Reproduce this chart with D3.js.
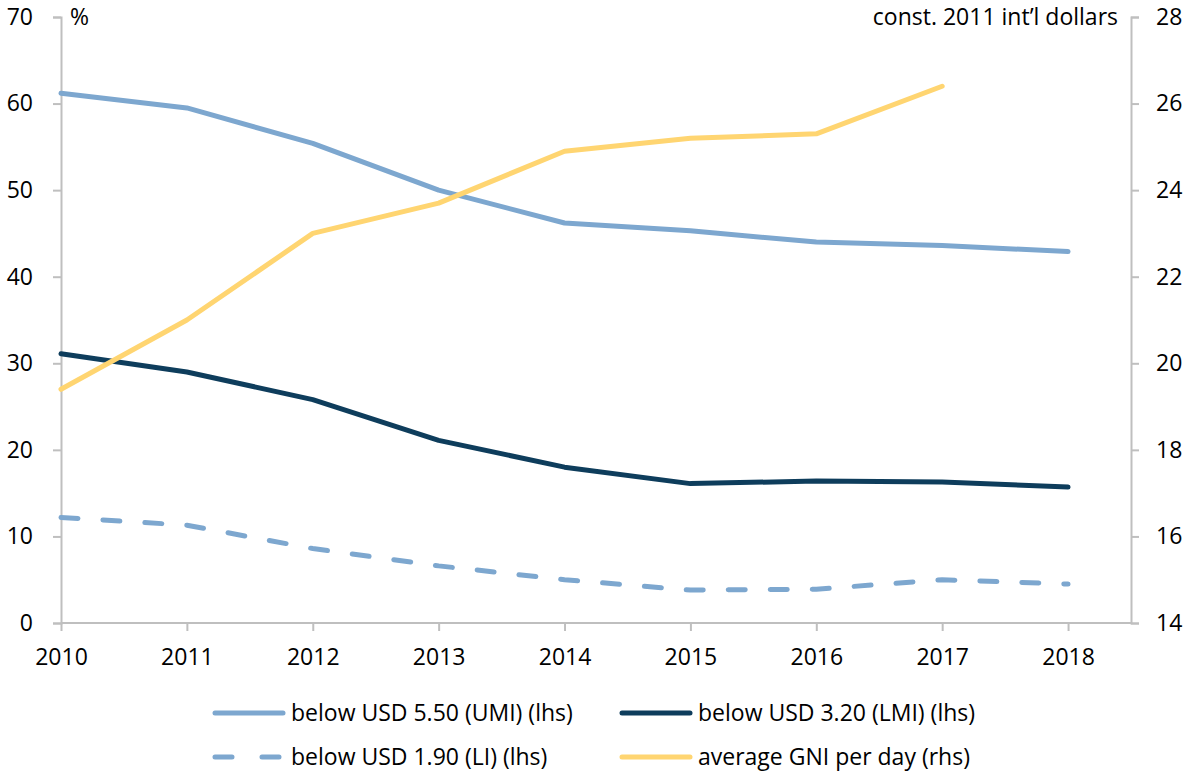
<!DOCTYPE html>
<html>
<head>
<meta charset="utf-8">
<script src="https://cdn.jsdelivr.net/npm/d3@7"></script>
<style>
  body { margin: 0; background: #fff; }
  svg text { font-family: "Open Sans", sans-serif; fill: #000; }
</style>
</head>
<body>
<svg id="chart" width="1192" height="775"></svg>
<script>
const years = [2010, 2011, 2012, 2013, 2014, 2015, 2016, 2017, 2018];
const umi = [61.2, 59.5, 55.4, 50.0, 46.2, 45.3, 44.0, 43.6, 42.9];
const lmi = [31.1, 29.0, 25.8, 21.1, 18.0, 16.1, 16.4, 16.3, 15.7];
const li = [12.2, 11.3, 8.6, 6.6, 5.0, 3.8, 3.9, 5.0, 4.5];
const gni = [19.4, 21.0, 23.0, 23.7, 24.9, 25.2, 25.3, 26.4, null];
const leftTicks = [0, 10, 20, 30, 40, 50, 60, 70];
const rightTicks = [14, 16, 18, 20, 22, 24, 26, 28];

const svg = d3.select("#chart");
const margin = { left: 61, right: 1131, top: 17, bottom: 623 };
const fontSize = 23;

const x = d3.scaleLinear().domain([2010, 2018.5]).range([margin.left, margin.right]);
const yL = d3.scaleLinear().domain([0, 70]).range([margin.bottom, margin.top]);
const yR = d3.scaleLinear().domain([14, 28]).range([margin.bottom, margin.top]);

const axisCol = "#bfbfbf";

// left axis
const gl = svg.append("g").attr("transform", `translate(${margin.left},0)`)
  .call(d3.axisLeft(yL).tickValues(leftTicks).tickSize(8).tickPadding(20));
// right axis
const gr = svg.append("g").attr("transform", `translate(${margin.right},0)`)
  .call(d3.axisRight(yR).tickValues(rightTicks).tickSize(8).tickPadding(17));
// bottom axis
const gb = svg.append("g").attr("transform", `translate(0,${margin.bottom})`)
  .call(d3.axisBottom(x).tickValues(years).tickFormat(d3.format("d")).tickSize(8).tickPadding(18));

[gl, gr, gb].forEach(g => {
  g.select(".domain").attr("stroke", axisCol).attr("stroke-width", 2);
  g.selectAll(".tick line").attr("stroke", axisCol).attr("stroke-width", 2);
  g.selectAll(".tick text").attr("font-size", fontSize).attr("font-family", "'Open Sans', sans-serif");
});
gb.select(".domain").attr("d", `M${margin.left},0H${margin.right}`);

svg.append("text").attr("x", 70).attr("y", 25).attr("font-size", fontSize).text("%");
svg.append("text").attr("x", 1118).attr("y", 25).attr("font-size", fontSize)
  .attr("text-anchor", "end").text("const. 2011 int\u2019l dollars");

const series = [
  { name: "below USD 5.50 (UMI) (lhs)", values: umi, y: yL, color: "#7da7cf", dash: null },
  { name: "below USD 3.20 (LMI) (lhs)", values: lmi, y: yL, color: "#0e3d5c", dash: null },
  { name: "below USD 1.90 (LI) (lhs)", values: li, y: yL, color: "#7da7cf", dash: "17 25" },
  { name: "average GNI per day (rhs)", values: gni, y: yR, color: "#ffd571", dash: null }
];

series.forEach(s => {
  const line = d3.line()
    .defined(d => d.v != null)
    .x(d => x(d.year))
    .y(d => s.y(d.v));
  svg.append("path")
    .datum(years.map((yr, i) => ({ year: yr, v: s.values[i] })))
    .attr("fill", "none")
    .attr("stroke", s.color)
    .attr("stroke-width", 5)
    .attr("stroke-linecap", "round")
    .attr("stroke-linejoin", "round")
    .attr("stroke-dasharray", s.dash)
    .attr("d", line);
});

// legend
const legendPos = [
  { x: 213, y: 713 }, { x: 620, y: 713 },
  { x: 213, y: 757 }, { x: 620, y: 757 }
];
series.forEach((s, i) => {
  const p = legendPos[i];
  const g = svg.append("g").attr("transform", `translate(${p.x},${p.y})`);
  g.append("line")
    .attr("x1", 2).attr("x2", 70).attr("y1", 0).attr("y2", 0)
    .attr("stroke", s.color).attr("stroke-width", 5)
    .attr("stroke-linecap", "round")
    .attr("stroke-dasharray", s.dash ? "17 30" : null);
  g.append("text").attr("x", 78).attr("y", 8).attr("font-size", fontSize).text(s.name);
});
</script>
</body>
</html>
